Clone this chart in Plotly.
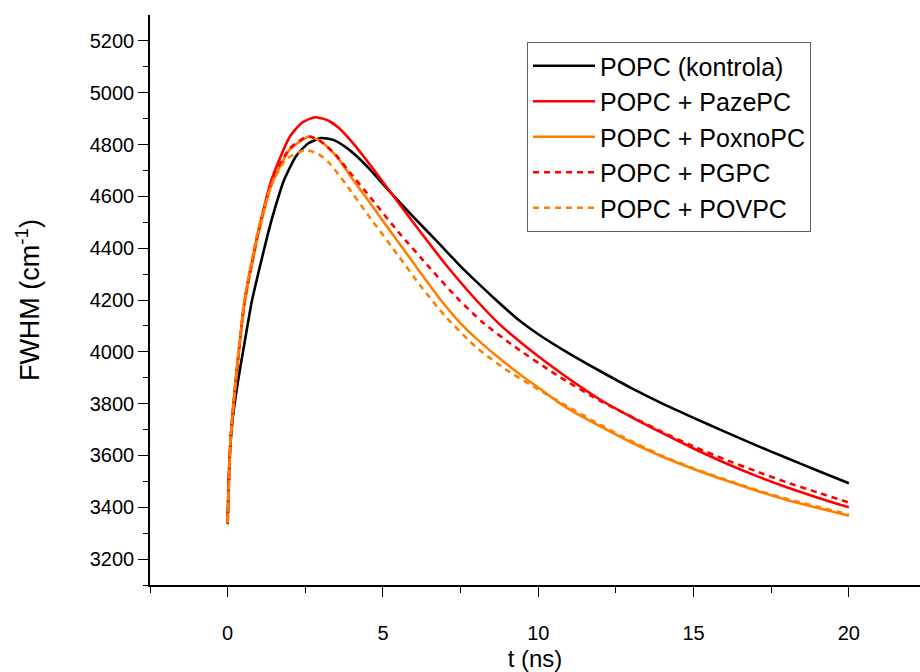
import plotly.graph_objects as go

# ---- data ----
t_kontrola = [0, 0.05, 0.1, 0.19, 0.35, 0.55, 0.78, 1.0, 1.32, 1.55, 1.81, 2.2, 2.6, 3.0, 3.4, 3.8, 4.2, 4.55, 5.19, 6.0, 6.71, 7.5, 8.0, 8.64, 9.3, 10, 11, 12, 13, 14, 15, 16, 17, 18, 19, 20]
v_kontrola = [3365, 3560, 3660, 3770, 3899, 4040, 4196, 4310, 4467, 4565, 4661, 4755, 4805, 4825, 4818, 4790, 4750, 4708, 4622, 4518, 4430, 4330, 4272, 4200, 4130, 4068, 3993, 3925, 3860, 3800, 3745, 3692, 3640, 3590, 3541, 3493]

t_pazepc = [0, 0.09, 0.25, 0.55, 1.0, 1.43, 2.0, 2.4, 2.8, 3.2, 3.6, 4.0, 4.5, 5.0, 5.5, 6.0, 7.0, 8.0, 8.74, 9.5, 10, 11, 12, 13, 14, 15, 16, 17, 18, 19, 20]
v_pazepc = [3335, 3653, 3874, 4196, 4470, 4670, 4830, 4885, 4905, 4895, 4862, 4810, 4735, 4655, 4575, 4495, 4340, 4200, 4108, 4030, 3983, 3895, 3815, 3748, 3686, 3627, 3572, 3522, 3477, 3437, 3400]

t_poxnopc = [0, 0.09, 0.25, 0.55, 1.0, 1.43, 2.0, 2.6, 3.0, 3.5, 4.0, 4.55, 5.0, 6.0, 6.86, 7.5, 8.0, 8.74, 9.5, 10, 10.62, 11, 12, 13, 14, 15, 16, 17, 18, 19, 20]
v_poxnopc = [3340, 3650, 3870, 4190, 4460, 4650, 4780, 4830, 4812, 4755, 4670, 4580, 4505, 4340, 4200, 4110, 4052, 3976, 3905, 3862, 3808, 3778, 3712, 3650, 3595, 3548, 3505, 3465, 3428, 3397, 3367]

t_pgpc = [0, 0.09, 0.25, 0.55, 1.0, 1.43, 2.0, 2.6, 3.0, 3.47, 3.85, 4.65, 5.5, 6.5, 7.45, 8.2, 9.12, 10.57, 12, 13, 14, 15, 16, 17, 18, 19, 20]
v_pgpc = [3335, 3655, 3875, 4200, 4470, 4660, 4785, 4832, 4812, 4762, 4705, 4588, 4462, 4325, 4200, 4115, 4030, 3912, 3810, 3750, 3690, 3635, 3585, 3540, 3496, 3457, 3418]

t_povpc = [0, 0.09, 0.25, 0.55, 1.0, 1.43, 1.9, 2.5, 2.9, 3.26, 3.8, 4.6, 5.5, 6.27, 7, 8, 9, 10, 11, 12, 13, 14, 15, 16, 17, 18, 19, 20]
v_povpc = [3340, 3660, 3885, 4210, 4480, 4650, 4745, 4778, 4765, 4730, 4648, 4515, 4370, 4245, 4138, 4018, 3928, 3855, 3785, 3718, 3655, 3598, 3550, 3508, 3468, 3432, 3402, 3372]

names = ["POPC (kontrola)", "POPC + PazePC", "POPC + PoxnoPC", "POPC + PGPC", "POPC + POVPC"]
x_ticks = [0, 5, 10, 15, 20]
x_minor = [-2.5, 2.5, 7.5, 12.5, 17.5]
y_ticks = [3200, 3400, 3600, 3800, 4000, 4200, 4400, 4600, 4800, 5000, 5200]
y_minor = [3100, 3300, 3500, 3700, 3900, 4100, 4300, 4500, 4700, 4900, 5100]

RED = "#FF0000"
ORANGE = "#FF8000"
FONT = "Arial, Liberation Sans, sans-serif"

series = [
    (t_kontrola, v_kontrola, names[0], "black", "solid"),
    (t_pazepc, v_pazepc, names[1], RED, "solid"),
    (t_poxnopc, v_poxnopc, names[2], ORANGE, "solid"),
    (t_pgpc, v_pgpc, names[3], RED, "6px,5px"),
    (t_povpc, v_povpc, names[4], ORANGE, "6px,5px"),
]

fig = go.Figure()
for tx, vy, nm, col, dash in series:
    fig.add_trace(go.Scatter(
        x=tx, y=vy, name=nm, mode="lines",
        line=dict(color=col, width=2.6, dash=dash, shape="spline", smoothing=0.6),
    ))

axis_common = dict(
    showline=True, linecolor="black", linewidth=1.6,
    ticks="outside", ticklen=10, tickwidth=1.4, tickcolor="black",
    showgrid=False, zeroline=False,
    tickfont=dict(family=FONT, size=20, color="black"),
)

fig.update_layout(
    width=920, height=672,
    margin=dict(l=150, r=0, t=15, b=87),
    paper_bgcolor="white", plot_bgcolor="white",
    font=dict(family=FONT, color="black"),
    xaxis=dict(
        range=[-2.5, 22.29], tickvals=x_ticks, ticktext=[str(v) for v in x_ticks],
        minor=dict(tickvals=x_minor, ticklen=6, tickwidth=1.4, tickcolor="black", ticks="outside"),
        ticklabelstandoff=19,
        title=dict(text="t (ns)", font=dict(family=FONT, size=24), standoff=10),
        **axis_common,
    ),
    yaxis=dict(
        range=[3100, 5300], tickvals=y_ticks, ticktext=[str(v) for v in y_ticks],
        minor=dict(tickvals=y_minor, ticklen=5, tickwidth=1.4, tickcolor="black", ticks="outside"),
        title=dict(text="FWHM (cm<sup>-1</sup>)", font=dict(family=FONT, size=27), standoff=42),
        **axis_common,
    ),
    legend=dict(
        x=(527 - 150) / 770, xanchor="left",
        y=(585 - 42) / 570, yanchor="top",
        bordercolor="#606060", borderwidth=1, bgcolor="white",
        font=dict(family=FONT, size=25, color="black"),
        itemwidth=62,
    ),
    showlegend=True,
)

fig.write_html("out.html")
